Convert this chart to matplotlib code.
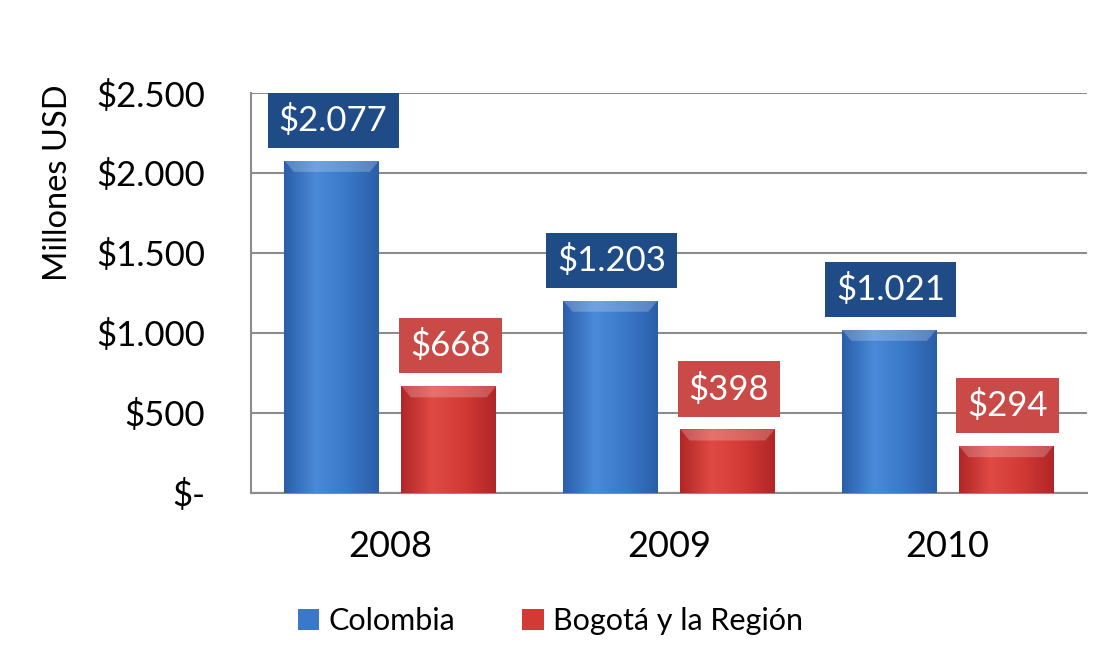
import numpy as np
from matplotlib import pyplot as plt
from matplotlib.colors import LinearSegmentedColormap
from matplotlib.patches import Patch

years = ["2008", "2009", "2010"]
colombia = [2077, 1203, 1021]
bogota = [668, 398, 294]
series_names = ["Colombia", "Bogotá y la Región"]
y_ticks = [0, 500, 1000, 1500, 2000, 2500]
y_tick_labels = ["$-", "$500", "$1.000", "$1.500", "$2.000", "$2.500"]

plt.rcParams['font.family'] = ['Lato', 'DejaVu Sans']

blue_cmap = LinearSegmentedColormap.from_list("b", ["#2a5ea8", "#4a8ad8", "#3a78c8", "#2a5ea8"])
red_cmap = LinearSegmentedColormap.from_list("r", ["#b02626", "#e04a44", "#d23a36", "#b02626"])


def fancy_bars(ax, bars, cmap):
    grad = np.linspace(0, 1, 256).reshape(1, -1)
    for b in bars:
        x0, y0 = b.get_x(), b.get_y()
        w, h = b.get_width(), b.get_height()
        b.set_facecolor("none")
        im = ax.imshow(grad, cmap=cmap, aspect="auto", extent=(x0, x0 + w, y0, y0 + h), zorder=3)
        im.set_clip_path(b)
        # light bevel on the top
        top = min(70, h * 0.3)
        ax.fill([x0, x0 + w, x0 + w * 0.9, x0 + w * 0.1], [y0 + h, y0 + h, y0 + h - top, y0 + h - top],
                color="white", alpha=0.22, zorder=4, linewidth=0)


def label_bars(ax, bars, values, boxcolor):
    for b, v in zip(bars, values):
        txt = "$" + f"{v:,}".replace(",", ".")
        ax.annotate(txt, (b.get_x() + b.get_width() / 2, b.get_height()),
                    xytext=(1, 29), textcoords="offset points", ha="center", va="center",
                    fontsize=25, color="white", zorder=6,
                    bbox=dict(boxstyle="square,pad=0.32", fc=boxcolor, ec="none"))


fig = plt.figure(figsize=(11.12, 6.61), dpi=100)
ax = fig.add_axes([0.2257, 0.2542, 0.7518, 0.6051])

x = np.arange(len(years))
width = 0.34
bars1 = ax.bar(x - 0.21, colombia, width, zorder=3)
bars2 = ax.bar(x + 0.21, bogota, width, zorder=3)
fancy_bars(ax, bars1, blue_cmap)
fancy_bars(ax, bars2, red_cmap)
label_bars(ax, bars1, colombia, "#1f4b86")
label_bars(ax, bars2, bogota, "#c94a46")

ax.set_xlim(-0.5, 2.5)
ax.set_ylim(0, 2500)
ax.set_xticks(x)
ax.set_xticklabels(years, fontsize=26)
ax.set_yticks(y_ticks)
ax.set_yticklabels(y_tick_labels, fontsize=25)
ax.tick_params(axis="x", length=0, pad=27)
ax.tick_params(axis="y", length=0, pad=33)
ax.grid(axis="y", color="#8c8c8c", linewidth=1.5, zorder=0)
ax.set_axisbelow(True)
for s in ["top", "right"]:
    ax.spines[s].set_visible(False)
for s in ["left", "bottom"]:
    ax.spines[s].set_color("#8c8c8c")
    ax.spines[s].set_linewidth(1.5)

fig.text(0.052, 0.723, "Millones USD", rotation=90, fontsize=23.5, ha="center", va="center")

handles = [Patch(facecolor="#3a78c8"), Patch(facecolor="#d23a36")]
fig.legend(handles, series_names, loc="center", bbox_to_anchor=(0.495, 0.06), ncol=2,
           frameon=False, fontsize=22, handlelength=0.7, handleheight=0.7,
           handletextpad=0.3, columnspacing=2.2)

fig.savefig("out.png", dpi=100)
